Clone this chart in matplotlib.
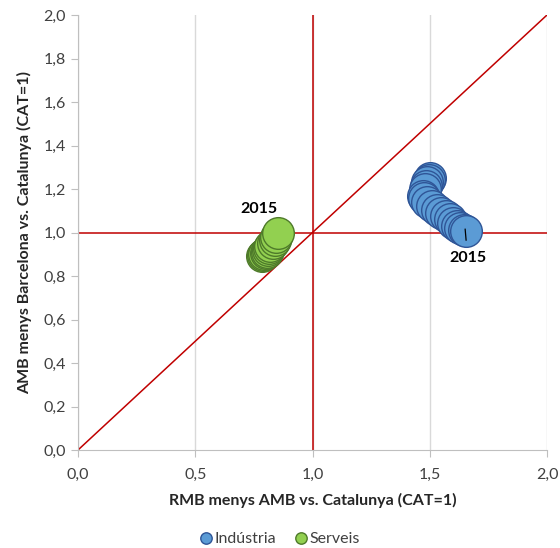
import matplotlib.pyplot as plt

plt.rcParams["font.family"] = ["Lato", "DejaVu Sans"]

# series values (x: RMB menys AMB vs CAT, y: AMB menys Barcelona vs CAT)
industria_x = [1.50, 1.495, 1.49, 1.485, 1.48, 1.47, 1.475, 1.49, 1.51, 1.53,
               1.55, 1.57, 1.585, 1.60, 1.615, 1.63, 1.645, 1.655]
industria_y = [1.25, 1.24, 1.23, 1.215, 1.20, 1.17, 1.16, 1.14, 1.12, 1.105,
               1.09, 1.075, 1.06, 1.045, 1.03, 1.02, 1.01, 1.005]
serveis_x = [0.785, 0.79, 0.795, 0.80, 0.805, 0.81, 0.815, 0.82, 0.83, 0.84,
             0.845, 0.855]
serveis_y = [0.89, 0.895, 0.90, 0.905, 0.91, 0.92, 0.93, 0.94, 0.95, 0.965,
             0.98, 0.998]
ticks = [0.0, 0.5, 1.0, 1.5, 2.0]
yticks = [0.0, 0.2, 0.4, 0.6, 0.8, 1.0, 1.2, 1.4, 1.6, 1.8, 2.0]

fig = plt.figure(figsize=(5.6, 5.48), dpi=100)
ax = fig.add_axes([78 / 560, 1 - 450 / 548, 469 / 560, 435 / 548])

red = "#C00000"
ax.plot([0, 2], [0, 2], color=red, lw=1.1, zorder=2)
ax.axvline(1.0, color=red, lw=1.1, zorder=2)
ax.axhline(1.0, color=red, lw=1.1, zorder=2)

ax.scatter(industria_x, industria_y, s=520, color="#5B9BD5", edgecolor="#2F5597",
           linewidth=1.0, zorder=3, label="Indústria")
ax.scatter(serveis_x, serveis_y, s=520, color="#92D050", edgecolor="#4E7A2A",
           linewidth=1.0, zorder=3, label="Serveis")

# 2015 labels
ax.plot([industria_x[-1] - 0.004, industria_x[-1]],
        [industria_y[-1] + 0.01, industria_y[-1] - 0.04], color="black", lw=0.9, zorder=4)
ax.text(1.663, 0.883, "2015", ha="center", va="center", fontsize=11.5,
        fontweight="bold")
ax.text(0.772, 1.108, "2015", ha="center", va="center", fontsize=11.5,
        fontweight="bold")

ax.set_xlim(0, 2)
ax.set_ylim(0, 2)
ax.set_xticks(ticks)
ax.set_yticks(yticks)
ax.set_xticklabels([f"{t:.1f}".replace(".", ",") for t in ticks])
ax.set_yticklabels([f"{t:.1f}".replace(".", ",") for t in yticks])
ax.grid(axis="x", color="#D9D9D9", lw=1.0, zorder=0)
for side in ["top", "right"]:
    ax.spines[side].set_visible(False)
for side in ["left", "bottom"]:
    ax.spines[side].set_color("#BFBFBF")
ax.tick_params(colors="#BFBFBF", labelcolor="#404040", labelsize=11.5, length=5)
ax.tick_params(axis="x", pad=8)

ax.set_xlabel("RMB menys AMB vs. Catalunya (CAT=1)", fontsize=11.5, fontweight="bold",
              color="#262626", labelpad=8)
ax.set_ylabel("AMB menys Barcelona vs. Catalunya (CAT=1)", fontsize=11.5,
              fontweight="bold", color="#262626", labelpad=8)

fig.legend(loc="lower center", bbox_to_anchor=(0.5, -0.022), ncol=2, frameon=False,
           fontsize=11.5, markerscale=0.36, handlelength=0.7, handletextpad=0.2,
           columnspacing=1.2, labelcolor="#404040")

fig.savefig("out.png", dpi=100)
